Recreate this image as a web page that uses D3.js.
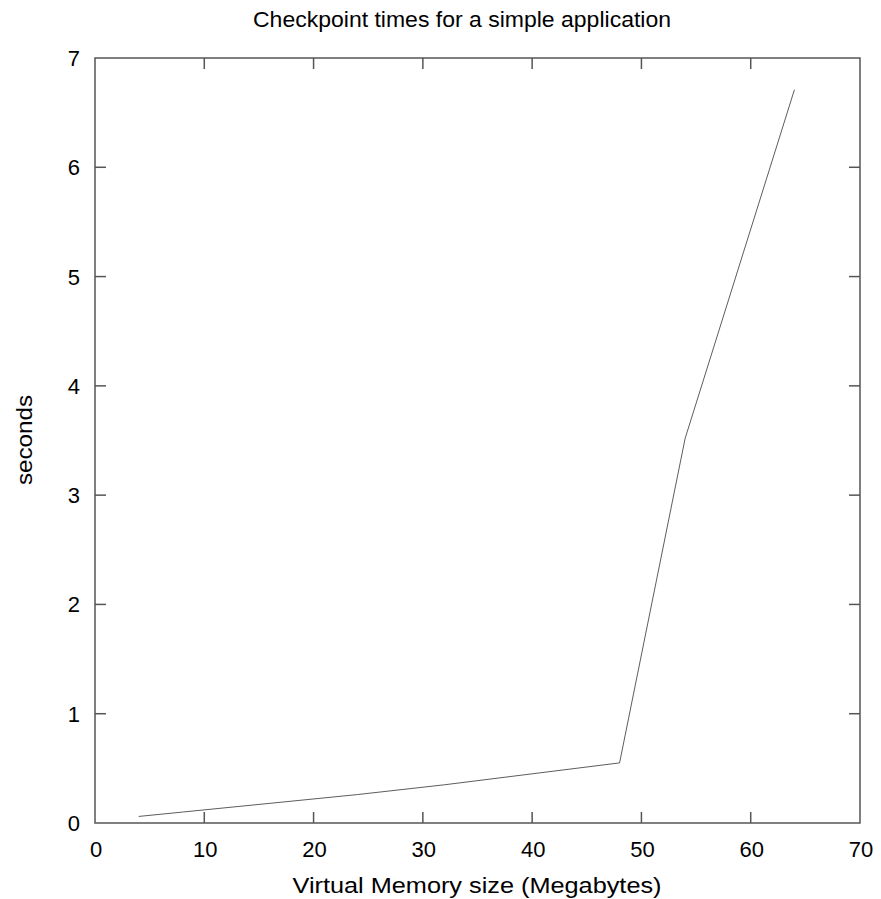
<!DOCTYPE html>
<html>
<head>
<meta charset="utf-8">
<script src="https://cdn.jsdelivr.net/npm/d3@7"></script>
<style>
    body { margin: 0; background: #fff; }
    text { font-family: "Liberation Sans", Arial, sans-serif; fill: #000; }
</style>
</head>
<body>
<svg id="chart" width="881" height="899"></svg>
<script>
// checkpoint sizes (MB) and times (s)
var memSize = [4, 8, 16, 24, 32, 40, 48, 54, 64];
var seconds = [0.06, 0.1, 0.18, 0.26, 0.35, 0.45, 0.55, 3.52, 6.71];
var xTicks = [0, 10, 20, 30, 40, 50, 60, 70];
var yTicks = [0, 1, 2, 3, 4, 5, 6, 7];

var margin = {top: 58, right: 21, bottom: 76, left: 95};
var width = 881 - margin.left - margin.right,
    height = 899 - margin.top - margin.bottom;

var svg = d3.select("#chart");
var g = svg.append("g")
    .attr("transform", "translate(" + margin.left + "," + margin.top + ")");

var x = d3.scaleLinear().domain([0, 70]).range([0, width]);
var y = d3.scaleLinear().domain([0, 7]).range([height, 0]);

// tick marks point inward, on all four sides
var tickLen = 11;
var frameColor = "#555";

g.selectAll(".xtick-b").data(xTicks.slice(1, -1)).enter().append("line")
    .attr("x1", d => x(d)).attr("x2", d => x(d))
    .attr("y1", height).attr("y2", height - tickLen)
    .attr("stroke", frameColor).attr("stroke-width", 1.5);
g.selectAll(".xtick-t").data(xTicks.slice(1, -1)).enter().append("line")
    .attr("x1", d => x(d)).attr("x2", d => x(d))
    .attr("y1", 0).attr("y2", tickLen)
    .attr("stroke", frameColor).attr("stroke-width", 1.5);
g.selectAll(".ytick-l").data(yTicks.slice(1, -1)).enter().append("line")
    .attr("x1", 0).attr("x2", tickLen)
    .attr("y1", d => y(d)).attr("y2", d => y(d))
    .attr("stroke", frameColor).attr("stroke-width", 1.5);
g.selectAll(".ytick-r").data(yTicks.slice(1, -1)).enter().append("line")
    .attr("x1", width).attr("x2", width - tickLen)
    .attr("y1", d => y(d)).attr("y2", d => y(d))
    .attr("stroke", frameColor).attr("stroke-width", 1.5);

g.append("rect")
    .attr("width", width).attr("height", height)
    .attr("fill", "none")
    .attr("stroke", frameColor).attr("stroke-width", 1.5);

// tick labels
g.selectAll(".xlab").data(xTicks).enter().append("text")
    .attr("x", d => x(d) + 1)
    .attr("y", height + 34)
    .attr("text-anchor", "middle")
    .style("font-size", "22px")
    .text(d => d);

g.selectAll(".ylab").data(yTicks).enter().append("text")
    .attr("x", -15)
    .attr("y", d => y(d) + 8)
    .attr("text-anchor", "end")
    .style("font-size", "22px")
    .text(d => d);

// data line
var line = d3.line()
    .x(function (d, i) { return x(memSize[i]); })
    .y(function (d) { return y(d); });

g.append("path")
    .datum(seconds)
    .attr("d", line)
    .attr("fill", "none")
    .attr("stroke", "#333")
    .attr("stroke-width", 0.8);

// titles
svg.append("text")
    .attr("x", 462).attr("y", 27)
    .attr("text-anchor", "middle")
    .attr("textLength", 418)
    .attr("lengthAdjust", "spacingAndGlyphs")
    .style("font-size", "22px")
    .text("Checkpoint times for a simple application");

svg.append("text")
    .attr("x", 477).attr("y", 893)
    .attr("text-anchor", "middle")
    .attr("textLength", 369)
    .attr("lengthAdjust", "spacingAndGlyphs")
    .style("font-size", "22px")
    .text("Virtual Memory size (Megabytes)");

svg.append("text")
    .attr("transform", "translate(32, 440) rotate(-90)")
    .attr("text-anchor", "middle")
    .attr("textLength", 90)
    .attr("lengthAdjust", "spacingAndGlyphs")
    .style("font-size", "22px")
    .text("seconds");
</script>
</body>
</html>
